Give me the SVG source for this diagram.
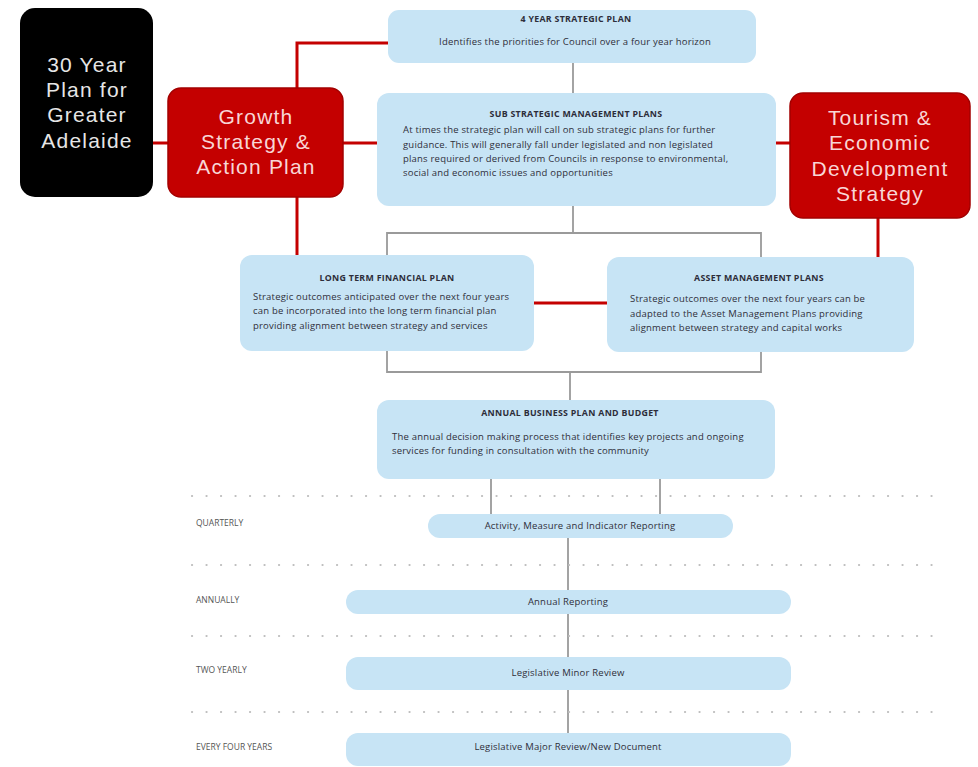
<svg xmlns="http://www.w3.org/2000/svg" width="978" height="767" viewBox="0 0 978 767">
<style>
.blue{fill:#c7e4f5;}
.red{fill:#c40000;stroke:#a30000;stroke-width:1.5;}
.big{font-family:"Liberation Sans","DejaVu Sans",sans-serif;font-size:21px;letter-spacing:1.2px;text-anchor:middle;}
.ttl{font-family:"Open Sans","Liberation Sans",sans-serif;font-size:8.8px;font-weight:bold;letter-spacing:0.3px;fill:#2d2d3a;text-anchor:middle;}
.bd{font-family:"Open Sans","Liberation Sans",sans-serif;font-size:9.5px;letter-spacing:0.2px;fill:#2f2f3a;}
.lbl{font-family:"Open Sans","Liberation Sans",sans-serif;font-size:8.5px;fill:#555555;}
.rl{stroke:#c40000;stroke-width:3;fill:none;}
.gl{stroke:#9a9a9a;stroke-width:1.8;fill:none;}
.dot{stroke:#bdbdbd;stroke-width:2.2;stroke-linecap:round;stroke-dasharray:0.1 14.4;fill:none;}
</style>
<rect width="978" height="767" fill="#ffffff"/>
<g id="connectors">
<path class="rl" d="M153 143H168"/>
<path class="rl" d="M343 143H377"/>
<path class="rl" d="M297 88V43H388"/>
<path class="rl" d="M297 197V255"/>
<path class="rl" d="M776 143H790"/>
<path class="rl" d="M878 218V257"/>
<path class="rl" d="M534 303H607"/>
<path class="gl" d="M573 63V93"/>
<path class="gl" d="M573 206V233M387 255V233H761V257"/>
<path class="gl" d="M387 351V372H761V352M570 372V400"/>
<path class="gl" d="M491 479V514M660 479V514"/>
<path class="gl" d="M568 538V590M568 614V657M568 690V733"/>
</g>
<g id="dividers">
<path class="dot" d="M192 496H942"/>
<path class="dot" d="M192 565H942"/>
<path class="dot" d="M192 636H942"/>
<path class="dot" d="M192 712H942"/>
</g>
<g id="plan30">
<rect x="20" y="8" width="133" height="189" rx="15" fill="#000"/>
<text class="big" fill="#e6e6e6" x="87" y="72">30 Year</text>
<text class="big" fill="#e6e6e6" x="87" y="97">Plan for</text>
<text class="big" fill="#e6e6e6" x="87" y="122">Greater</text>
<text class="big" fill="#e6e6e6" x="87" y="148">Adelaide</text>
</g>
<g id="growth">
<rect class="red" x="168" y="88" width="175" height="109" rx="13"/>
<text class="big" fill="#f8d6d6" x="256" y="124">Growth</text>
<text class="big" fill="#f8d6d6" x="256" y="149">Strategy &amp;</text>
<text class="big" fill="#f8d6d6" x="256" y="174">Action Plan</text>
</g>
<g id="tourism">
<rect class="red" x="790" y="93" width="180" height="125" rx="13"/>
<text class="big" fill="#f8d6d6" x="880" y="125">Tourism &amp;</text>
<text class="big" fill="#f8d6d6" x="880" y="150">Economic</text>
<text class="big" fill="#f8d6d6" x="880" y="176">Development</text>
<text class="big" fill="#f8d6d6" x="880" y="201">Strategy</text>
</g>
<g id="plan4">
<rect class="blue" x="388" y="10" width="368" height="53" rx="11"/>
<text class="ttl" x="576" y="22">4 YEAR STRATEGIC PLAN</text>
<text class="bd" x="575" y="45" text-anchor="middle">Identifies the priorities for Council over a four year horizon</text>
</g>
<g id="substrategic">
<rect class="blue" x="377" y="93" width="399" height="113" rx="12"/>
<text class="ttl" x="576" y="117">SUB STRATEGIC MANAGEMENT PLANS</text>
<text class="bd" x="403" y="133">At times the strategic plan will call on sub strategic plans for further</text>
<text class="bd" x="403" y="148">guidance.  This will generally fall under legislated and non legislated</text>
<text class="bd" x="403" y="162">plans required or derived from Councils in response to environmental,</text>
<text class="bd" x="403" y="176">social and economic issues and opportunities</text>
</g>
<g id="ltfp">
<rect class="blue" x="240" y="255" width="294" height="96" rx="12"/>
<text class="ttl" x="387" y="281">LONG TERM FINANCIAL PLAN</text>
<text class="bd" x="253" y="300">Strategic outcomes anticipated over the next four years</text>
<text class="bd" x="253" y="314">can be  incorporated into the long term financial plan</text>
<text class="bd" x="253" y="329">providing alignment between strategy and services</text>
</g>
<g id="amp">
<rect class="blue" x="607" y="257" width="307" height="95" rx="12"/>
<text class="ttl" x="759" y="281">ASSET MANAGEMENT PLANS</text>
<text class="bd" x="630" y="302">Strategic outcomes over the next four years can be</text>
<text class="bd" x="630" y="317">adapted to the Asset Management Plans providing</text>
<text class="bd" x="630" y="331">alignment between strategy and capital works</text>
</g>
<g id="abp">
<rect class="blue" x="377" y="400" width="398" height="79" rx="12"/>
<text class="ttl" x="570" y="416">ANNUAL BUSINESS PLAN AND BUDGET</text>
<text class="bd" x="392" y="440">The annual decision making process that identifies key projects and ongoing</text>
<text class="bd" x="392" y="454">services for funding in consultation with the community</text>
</g>
<g id="quarterly">
<text class="lbl" x="196" y="526">QUARTERLY</text>
<rect class="blue" x="428" y="514" width="305" height="24" rx="12"/>
<text class="bd" x="580" y="529" text-anchor="middle">Activity, Measure and Indicator Reporting</text>
</g>
<g id="annually">
<text class="lbl" x="196" y="603">ANNUALLY</text>
<rect class="blue" x="346" y="590" width="445" height="24" rx="12"/>
<text class="bd" x="568" y="605" text-anchor="middle">Annual Reporting</text>
</g>
<g id="twoyearly">
<text class="lbl" x="196" y="673">TWO YEARLY</text>
<rect class="blue" x="346" y="657" width="445" height="33" rx="12"/>
<text class="bd" x="568" y="676" text-anchor="middle">Legislative Minor Review</text>
</g>
<g id="fouryears">
<text class="lbl" x="196" y="750">EVERY FOUR YEARS</text>
<rect class="blue" x="346" y="733" width="445" height="33" rx="12"/>
<text class="bd" x="568" y="750" text-anchor="middle">Legislative Major Review/New Document</text>
</g>
</svg>
